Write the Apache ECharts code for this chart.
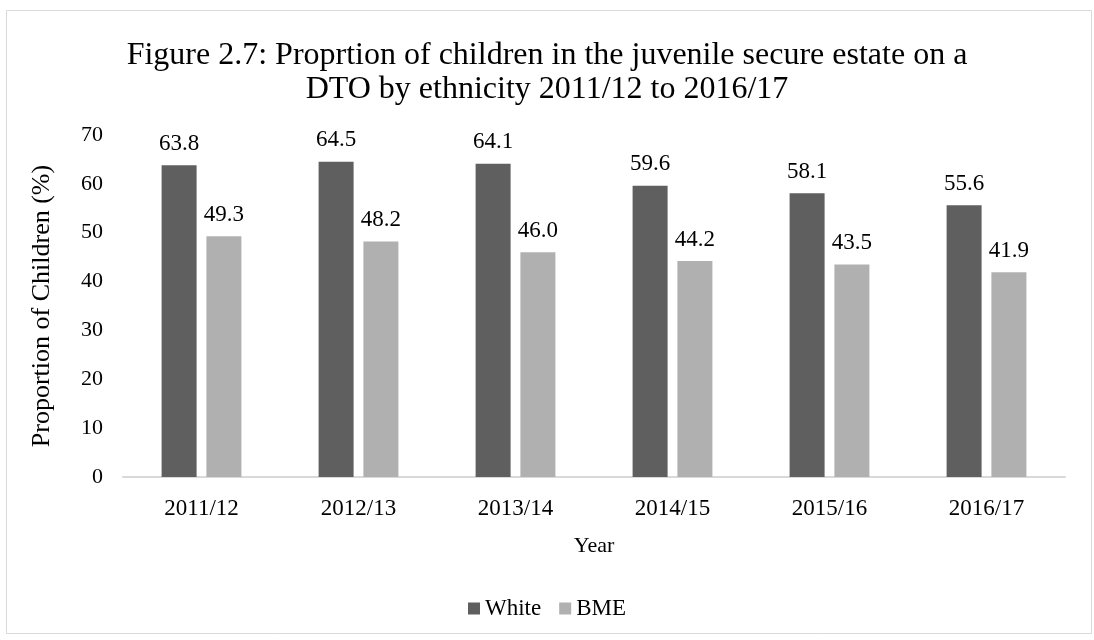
<!DOCTYPE html>
<html><head><meta charset="utf-8">
<script src="https://cdn.jsdelivr.net/npm/echarts@6/dist/echarts.min.js"></script>
<style>html,body{margin:0;padding:0;background:#fff}#c{width:1094px;height:640px}</style>
</head><body><div id="c"></div>
<script>
const categories = ['2011/12','2012/13','2013/14','2014/15','2015/16','2016/17'];
const whiteValues = [63.8, 64.5, 64.1, 59.6, 58.1, 55.6];
const bmeValues = [49.3, 48.2, 46.0, 44.2, 43.5, 41.9];
const seriesNames = ['White', 'BME'];
const yTicks = {min: 0, max: 70, interval: 10};

const font = '"Liberation Serif", "Times New Roman", serif';
const chart = echarts.init(document.getElementById('c'));
const lbl = {show: true, position: 'top', distance: 10, color: '#000', fontFamily: font, fontSize: 23,
  formatter: p => p.value.toFixed(1)};
chart.setOption({
  animation: false,
  graphic: [{type: 'rect', left: 4, top: 8, shape: {width: 1085, height: 623},
    style: {fill: 'none', stroke: '#d9d9d9', lineWidth: 1}, silent: true}],
  title: {text: 'Figure 2.7: Proprtion of children in the juvenile secure estate on a\nDTO by ethnicity 2011/12 to 2016/17',
    left: 'center', top: 34,
    textStyle: {fontFamily: font, fontSize: 32, fontWeight: 'normal', color: '#000', lineHeight: 34}},
  legend: {data: seriesNames, bottom: 15, left: 'center', itemWidth: 12, itemHeight: 12, itemGap: 18,
    icon: 'rect', textStyle: {fontFamily: font, fontSize: 23, color: '#000'}},
  grid: {left: 123, right: 29, top: 135, bottom: 163},
  xAxis: {type: 'category', data: categories, name: 'Year', nameLocation: 'middle', nameGap: 58,
    nameTextStyle: {fontFamily: font, fontSize: 22, color: '#000'},
    axisLine: {lineStyle: {color: '#d9d9d9', width: 2}}, axisTick: {show: false},
    axisLabel: {fontFamily: font, fontSize: 23, color: '#000', margin: 20}},
  yAxis: {type: 'value', min: yTicks.min, max: yTicks.max, interval: yTicks.interval,
    name: 'Proportion of Children (%)', nameLocation: 'middle', nameGap: 68, nameRotate: 90,
    nameTextStyle: {fontFamily: font, fontSize: 26, color: '#000'},
    axisLine: {show: false}, axisTick: {show: false}, splitLine: {show: false},
    axisLabel: {fontFamily: font, fontSize: 22, color: '#000', margin: 20}},
  series: [
    {name: seriesNames[0], type: 'bar', data: whiteValues, barWidth: 35, barGap: '28%',
      itemStyle: {color: '#5f5f5f'}, label: lbl},
    {name: seriesNames[1], type: 'bar', data: bmeValues, barWidth: 35,
      itemStyle: {color: '#b0b0b0'}, label: lbl}
  ]
});
</script></body></html>
